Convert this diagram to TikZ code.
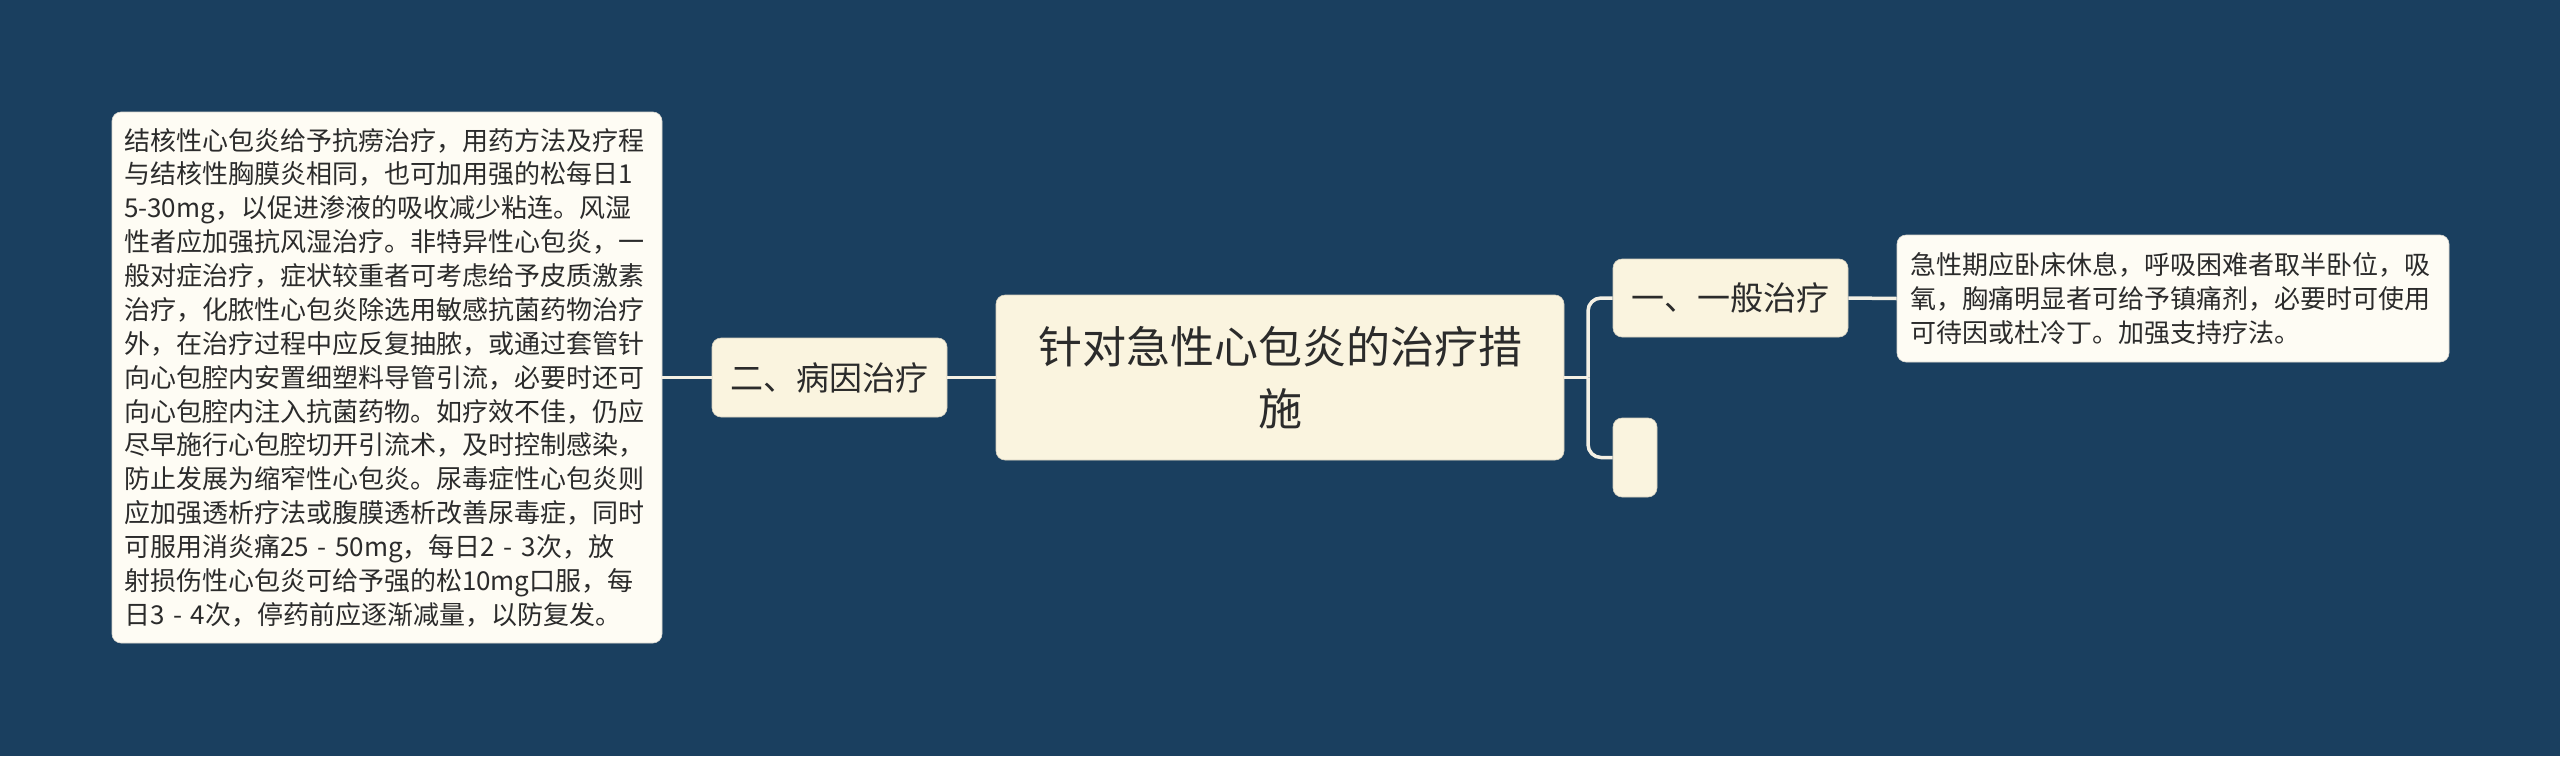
\documentclass[tikz,border=0pt]{standalone}
\usepackage{fontspec}
\newfontfamily\cjk{Noto Sans CJK SC}
\definecolor{bg}{HTML}{1A3F5F}
\definecolor{nodefill}{HTML}{FAF4DF}
\definecolor{boxfill}{HTML}{FEFCF4}
\definecolor{linec}{HTML}{F4F0E4}
\definecolor{txt}{HTML}{2B2B2B}
\begin{document}
\begin{tikzpicture}[x=1pt,y=-1pt,
  base/.style={rounded corners=9pt, inner sep=0pt, text=txt, anchor=center},
  topicbox/.style={base, fill=nodefill, draw=nodefill!85!black, line width=0.6pt},
  textbox/.style={base, fill=boxfill, draw=boxfill!85!black, line width=0.6pt, align=left},
  conn/.style={draw=linec, line width=3.5pt},
  ]
\fill[bg] (0,0) rectangle (2560,756);
\useasboundingbox (0,0) rectangle (2560,756);

\node[topicbox, minimum width=568pt, minimum height=165pt, align=center,
  font=\cjk\fontsize{44}{62}\selectfont] (root) at (1280,377.5)
  {针对急性心包炎的治疗措\\施};

\node[topicbox, minimum width=235pt, minimum height=79pt,
  font=\cjk\fontsize{33}{40}\selectfont] (n2) at (829.5,377.5) {二、病因治疗};

\node[topicbox, minimum width=235pt, minimum height=78pt,
  font=\cjk\fontsize{33}{40}\selectfont] (n1) at (1730.5,298) {一、一般治疗};

\node[topicbox, minimum width=44pt, minimum height=79pt] (n3) at (1635,457.5) {};

\node[textbox, minimum width=550pt, minimum height=531pt, text width=526pt,
  font=\cjk\fontsize{26}{33.86}\selectfont] (left) at (387,377.5)
  {结核性心包炎给予抗痨治疗，用药方法及疗程\\
与结核性胸膜炎相同，也可加用强的松每日1\\
5-30mg，以促进渗液的吸收减少粘连。风湿\\
性者应加强抗风湿治疗。非特异性心包炎，一\\
般对症治疗，症状较重者可考虑给予皮质激素\\
治疗，化脓性心包炎除选用敏感抗菌药物治疗\\
外，在治疗过程中应反复抽脓，或通过套管针\\
向心包腔内安置细塑料导管引流，必要时还可\\
向心包腔内注入抗菌药物。如疗效不佳，仍应\\
尽早施行心包腔切开引流术，及时控制感染，\\
防止发展为缩窄性心包炎。尿毒症性心包炎则\\
应加强透析疗法或腹膜透析改善尿毒症，同时\\
可服用消炎痛25 - 50mg，每日2 - 3次，放\\
射损伤性心包炎可给予强的松10mg口服，每\\
日3 - 4次，停药前应逐渐减量，以防复发。};

\node[textbox, minimum width=552pt, minimum height=127pt, text width=526pt,
  font=\cjk\fontsize{26}{34}\selectfont] (right) at (2173,298.5)
  {急性期应卧床休息，呼吸困难者取半卧位，吸\\
氧，胸痛明显者可给予镇痛剂，必要时可使用\\
可待因或杜冷丁。加强支持疗法。};

\coordinate (j) at (1588,377.5);

\begin{scope}[on background layer/.style={}]
\draw[conn] (root.west) -- (n2.east);
\draw[conn] (n2.west) -- (left.east);
\draw[conn] (root.east) -- (j);
\draw[conn, rounded corners=13pt] (j) |- (n1.west);
\draw[conn, rounded corners=13pt] (j) |- (n3.west);
\draw[conn] (n1.east) -- (right.west);
\end{scope}
\end{tikzpicture}
\end{document}
